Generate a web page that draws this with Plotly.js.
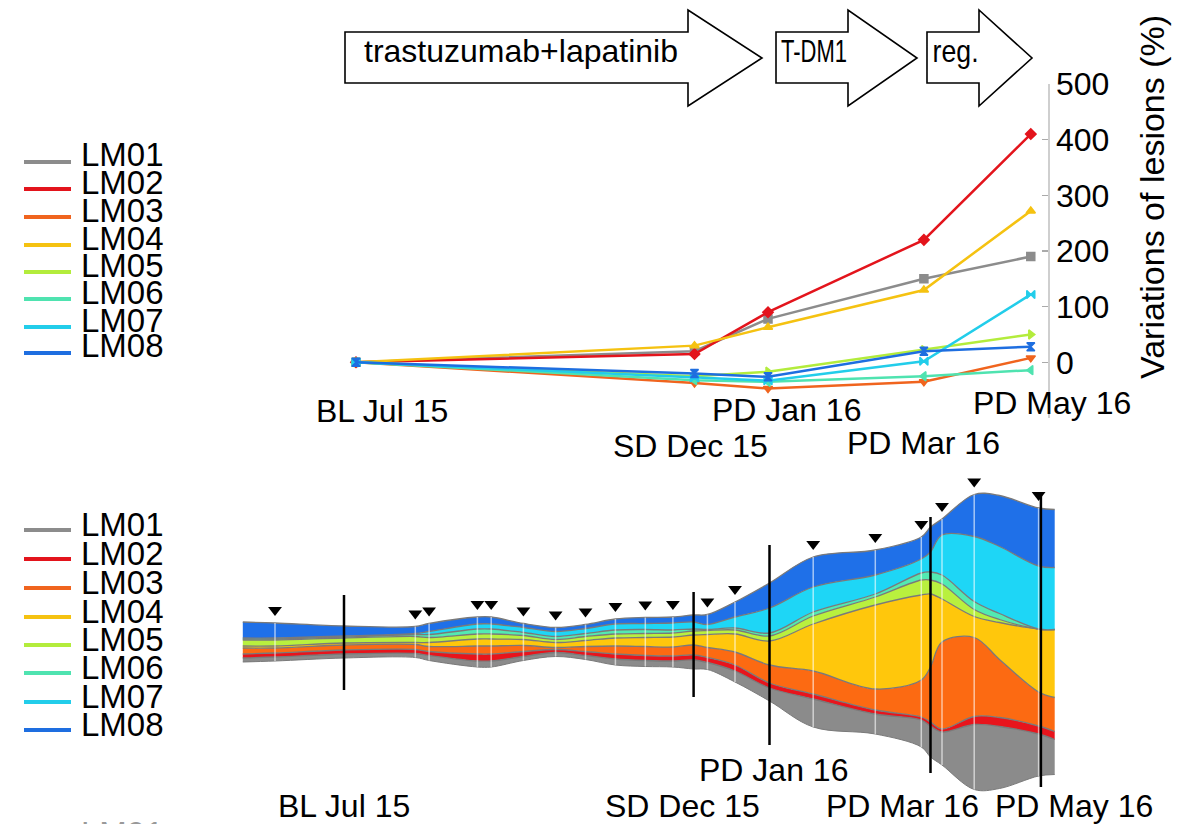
<!DOCTYPE html>
<html>
<head>
<meta charset="utf-8">
<script src="https://cdn.plot.ly/plotly-3.0.1.min.js"></script>
<style>
  html, body { margin: 0; padding: 0; background: #fff; }
  #chart { width: 1192px; height: 824px; }
</style>
</head>
<body>
<div id="chart"></div>
<script>
// ---------- data ----------
const names = ['LM01', 'LM02', 'LM03', 'LM04', 'LM05', 'LM06', 'LM07', 'LM08'];

// visits (imaging time points)
const visitDates  = ['2015-07-15', '2015-12-14', '2016-01-16', '2016-03-26', '2016-05-13'];
const visitLabels = ['BL Jul 15', 'SD Dec 15', 'PD Jan 16', 'PD Mar 16', 'PD May 16'];

// variation of each lesion vs baseline (%)
const varLM01 = [0, 20, 78, 150, 190];
const varLM02 = [0, 15, 90, 220, 410];
const varLM03 = [0, -37, -47, -35, 8];
const varLM04 = [0, 30, 63, 130, 272];
const varLM05 = [0, -25, -17, 22, 50];
const varLM06 = [0, -32, -35, -25, -14];
const varLM07 = [0, -28, -33, 2, 122];
const varLM08 = [0, -20, -26, 20, 28];

// lesion burden over time (stream graph), one value per sample date
const streamDates = ['2015-06-01', '2015-06-15', '2015-07-15', '2015-08-15', '2015-08-21',
  '2015-09-11', '2015-09-17', '2015-10-01', '2015-10-15', '2015-10-28', '2015-11-10',
  '2015-11-23', '2015-12-05', '2015-12-14', '2015-12-20', '2016-01-01', '2016-01-16',
  '2016-02-04', '2016-03-02', '2016-03-22', '2016-03-26', '2016-03-31', '2016-04-14',
  '2016-04-25', '2016-05-12', '2016-05-19'];
const volLM01 = [4, 4, 4, 4, 5, 6, 6, 4, 4, 4, 6, 6, 6, 9, 7, 11, 13, 28, 20, 27, 31, 33, 65, 62, 42, 35];
const volLM02 = [4, 4, 4, 4, 4, 7, 7, 5, 3, 4, 5, 5, 5, 5, 5, 6, 5, 5, 4, 3, 4, 3, 8, 9, 8, 8];
const volLM03 = [6, 5, 5, 5, 5, 8, 8, 6, 2, 5, 8, 9, 9, 10, 10, 13, 18, 23, 21, 37, 55, 87, 79, 58, 34, 34];
const volLM04 = [2, 2, 2, 2, 4, 7, 7, 6, 5, 6, 8, 9, 10, 10, 13, 18, 24, 47, 84, 85, 73, 43, 21, 37, 63, 68];
const volLM05 = [6, 6, 5, 6, 5, 5, 5, 4, 3, 4, 4, 4, 4, 4, 4, 4, 5, 8, 8, 15, 14, 15, 7, 3, 0, 0];
const volLM06 = [1, 1, 1, 2, 3, 5, 5, 3, 3, 3, 4, 4, 3, 2, 1, 2, 3, 4, 3, 7, 8, 9, 8, 6, 0, 0];
const volLM07 = [1, 1, 1, 1, 3, 5, 5, 5, 5, 5, 6, 6, 7, 7, 5, 11, 25, 25, 19, 14, 20, 40, 65, 67, 63, 62];
const volLM08 = [16, 15, 10, 7, 8, 7, 7, 4, 4, 4, 5, 6, 6, 7, 10, 15, 25, 30, 25, 22, 25, 16, 42, 51, 58, 58];

// scan dates marked with a triangle
const scanDates = ['2015-06-15', '2015-08-15', '2015-08-21', '2015-09-11', '2015-09-17',
  '2015-10-01', '2015-10-15', '2015-10-28', '2015-11-10', '2015-11-23', '2015-12-05',
  '2015-12-20', '2016-01-01', '2016-02-04', '2016-03-02', '2016-03-22', '2016-03-31',
  '2016-04-14', '2016-05-12'];

// treatment lines
const treatments = ['trastuzumab+lapatinib', 'T-DM1', 'reg.'];

// ---------- styling ----------
const W = 1192, H = 824;
const px = x => x / W;          // page pixel -> paper x
const py = y => 1 - y / H;      // page pixel -> paper y
const FONT = 'Liberation Sans, Arial, Helvetica, sans-serif';
const lineColors = ['#8c8c8c', '#e3141c', '#f0641e', '#f5c211', '#b3ec3c', '#4fe3b0', '#22cdea', '#1e6ee0'];
const fillColors = ['#8b8b8b', '#e8141c', '#fc6a12', '#ffc70c', '#b9f03e', '#52eab2', '#1ed6f6', '#1f70e8'];
const symbols = ['square', 'diamond', 'triangle-down', 'triangle-up', 'triangle-right', 'triangle-left', 'bowtie', 'hourglass'];

const DAY = 86400000;
const t0 = Date.UTC(2015, 6, 15);
const dateStr = ms => new Date(ms).toISOString().replace('T', ' ').replace('Z', '');
// x range so that the baseline visit falls at pixel x0 with the given pixels-per-day
const dateRange = (x0, k) => [dateStr(t0 - x0 / k * DAY), dateStr(t0 + (W - x0) / k * DAY)];

const traces = [];

// ---------- stream graph (bottom) ----------
const layers = [volLM01, volLM02, volLM03, volLM04, volLM05, volLM06, volLM07, volLM08];
const totals = streamDates.map((_, i) => layers.reduce((s, L) => s + L[i], 0));
const base = totals.map(t => -t / 2);
traces.push({
  x: streamDates, y: base, xaxis: 'x2', yaxis: 'y2', mode: 'lines',
  line: { shape: 'spline', smoothing: 1, color: '#7a7a7a', width: 1 },
  hoverinfo: 'skip', showlegend: false
});
let cum = base.slice();
layers.forEach((L, k) => {
  cum = cum.map((c, i) => c + L[i]);
  traces.push({
    x: streamDates, y: cum.slice(), xaxis: 'x2', yaxis: 'y2', mode: 'lines',
    name: names[k], fill: 'tonexty', fillcolor: fillColors[k],
    line: { shape: 'spline', smoothing: 1, color: '#7a7a7a', width: 1.3 },
    showlegend: false
  });
});
const tops = cum;
const scanIdx = scanDates.map(d => streamDates.indexOf(d));

traces.push({
  x: scanDates, y: scanIdx.map(i => tops[i] + 13), xaxis: 'x2', yaxis: 'y2',
  mode: 'markers', marker: { symbol: 'triangle-down', size: 12, color: '#000' },
  hoverinfo: 'skip', showlegend: false
});

// ---------- variation lines (top) ----------
const variations = [varLM01, varLM02, varLM03, varLM04, varLM05, varLM06, varLM07, varLM08];
variations.forEach((v, k) => {
  traces.push({
    x: visitDates, y: v, xaxis: 'x', yaxis: 'y', mode: 'lines+markers', name: names[k],
    line: { color: lineColors[k], width: 2.5 },
    marker: { symbol: symbols[k], size: 8, color: lineColors[k], line: { color: lineColors[k], width: 1.5 } },
    showlegend: false
  });
});

// ---------- shapes & annotations ----------
const shapes = [];
const annotations = [];

// treatment arrows
const arrowGeo = [
  { x0: 345, xh: 688, xt: 762 },
  { x0: 776, xh: 848, xt: 917 },
  { x0: 927, xh: 979, xt: 1032 }
];
arrowGeo.forEach(a => {
  const pts = [[a.x0, 32], [a.xh, 32], [a.xh, 10], [a.xt, 58], [a.xh, 106], [a.xh, 83], [a.x0, 83]];
  const path = 'M' + pts.map(p => px(p[0]).toFixed(5) + ',' + py(p[1]).toFixed(5)).join(' L') + ' Z';
  shapes.push({ type: 'path', xref: 'paper', yref: 'paper', path: path,
    fillcolor: '#fff', line: { color: '#000', width: 1.6 }, layer: 'above' });
});
// label centre and rendered width of each treatment name
const treatPos = [{ x: 521, w: 310 }, { x: 814, w: 66 }, { x: 955, w: 46 }];
treatments.forEach((t, i) => {
  annotations.push({ text: t, xref: 'paper', yref: 'paper', x: px(treatPos[i].x), y: py(51),
    xanchor: 'center', yanchor: 'middle', showarrow: false,
    font: { family: FONT, size: 32, color: '#000' } });
});

// y-axis title of the variation chart
annotations.push({ text: 'Variations of lesions (%)', xref: 'paper', yref: 'paper',
  x: px(1152), y: py(197), textangle: -90, showarrow: false,
  xanchor: 'center', yanchor: 'middle', font: { family: FONT, size: 34, color: '#000' } });

// visit labels, top chart
const topShift = [26, -4, 18, 0, 21];
const topY = [411, 446, 410, 443, 403];
visitLabels.forEach((t, i) => {
  annotations.push({ text: t, xref: 'x', yref: 'paper', x: visitDates[i], xshift: topShift[i],
    y: py(topY[i]), showarrow: false, xanchor: 'center', yanchor: 'middle',
    font: { family: FONT, size: 32, color: '#000' } });
});

// visit labels and markers, stream graph
const botShift = [0, -11, 4, -28, 33];
const botY = [806, 806, 770, 806, 806];
const visitLineSpan = [[47, -48], [50, -55], [97, -103], [125, -131], [150, -145]];
visitLabels.forEach((t, i) => {
  annotations.push({ text: t, xref: 'x2', yref: 'paper', x: visitDates[i], xshift: botShift[i],
    y: py(botY[i]), showarrow: false, xanchor: 'center', yanchor: 'middle',
    font: { family: FONT, size: 32, color: '#000' } });
});

// faint white guides at each scan across the stream
scanIdx.forEach((idx, j) => {
  shapes.push({ type: 'line', xref: 'x2', yref: 'y2', x0: scanDates[j], x1: scanDates[j],
    y0: base[idx], y1: tops[idx], line: { color: 'rgba(255,255,255,0.6)', width: 1.5 }, layer: 'above' });
});
visitDates.forEach((d, i) => {
  shapes.push({ type: 'line', xref: 'x2', yref: 'y2', x0: d, x1: d,
    y0: visitLineSpan[i][0], y1: visitLineSpan[i][1], line: { color: '#000', width: 2.5 }, layer: 'above' });
});

// legends
function legend(lineY, textOffset) {
  names.forEach((n, k) => {
    const y = lineY[k];
    shapes.push({ type: 'line', xref: 'paper', yref: 'paper', x0: px(24), x1: px(71), y0: py(y), y1: py(y),
      line: { color: lineColors[k], width: 4 } });
    annotations.push({ text: n, xref: 'paper', yref: 'paper', x: px(79), y: py(y + textOffset),
      xanchor: 'left', yanchor: 'middle', showarrow: false,
      font: { family: FONT, size: 33, color: '#000' } });
  });
}
legend([162, 189, 217, 245, 272, 299, 327, 353], -7);
legend([530, 559, 588, 617, 645, 673, 702, 730], -6);
// next legend block, cut off by the page edge
annotations.push({ text: 'LM01', xref: 'paper', yref: 'paper', x: px(79), y: py(833),
  xanchor: 'left', yanchor: 'middle', showarrow: false,
  font: { family: FONT, size: 33, color: '#999' } });

// ---------- layout ----------
const layout = {
  width: W, height: H,
  margin: { l: 0, r: 0, t: 0, b: 0, pad: 0 },
  paper_bgcolor: '#fff', plot_bgcolor: 'rgba(0,0,0,0)',
  font: { family: FONT, color: '#000' },
  showlegend: false,
  xaxis: { type: 'date', domain: [0, 1], range: dateRange(356, 2.227), visible: false, anchor: 'y' },
  yaxis: {
    domain: [py(418), py(84)], range: [-100, 500], anchor: 'free', position: px(1048), side: 'right',
    showline: true, linecolor: '#cfcfcf', linewidth: 1.5,
    ticks: 'inside', ticklen: 6, tickcolor: '#aaa', tickwidth: 1.5,
    tickvals: [0, 100, 200, 300, 400, 500], tickfont: { family: FONT, size: 32, color: '#000' },
    showgrid: false, zeroline: false
  },
  xaxis2: { type: 'date', domain: [0, 1], range: dateRange(344, 2.3), visible: false, anchor: 'y2' },
  yaxis2: { domain: [0, 1], range: [642 - H, 642], visible: false, anchor: 'x2' },
  shapes: shapes,
  annotations: annotations
};

Plotly.newPlot('chart', traces, layout, { displayModeBar: false, staticPlot: true }).then(gd => {
  // the short treatment names are set condensed to fit inside their arrow bodies
  gd.querySelectorAll('.annotation-text').forEach(el => {
    const i = treatments.indexOf(el.textContent);
    if (i > 0) {
      el.setAttribute('textLength', treatPos[i].w);
      el.setAttribute('lengthAdjust', 'spacingAndGlyphs');
    }
  });
});
</script>
</body>
</html>
